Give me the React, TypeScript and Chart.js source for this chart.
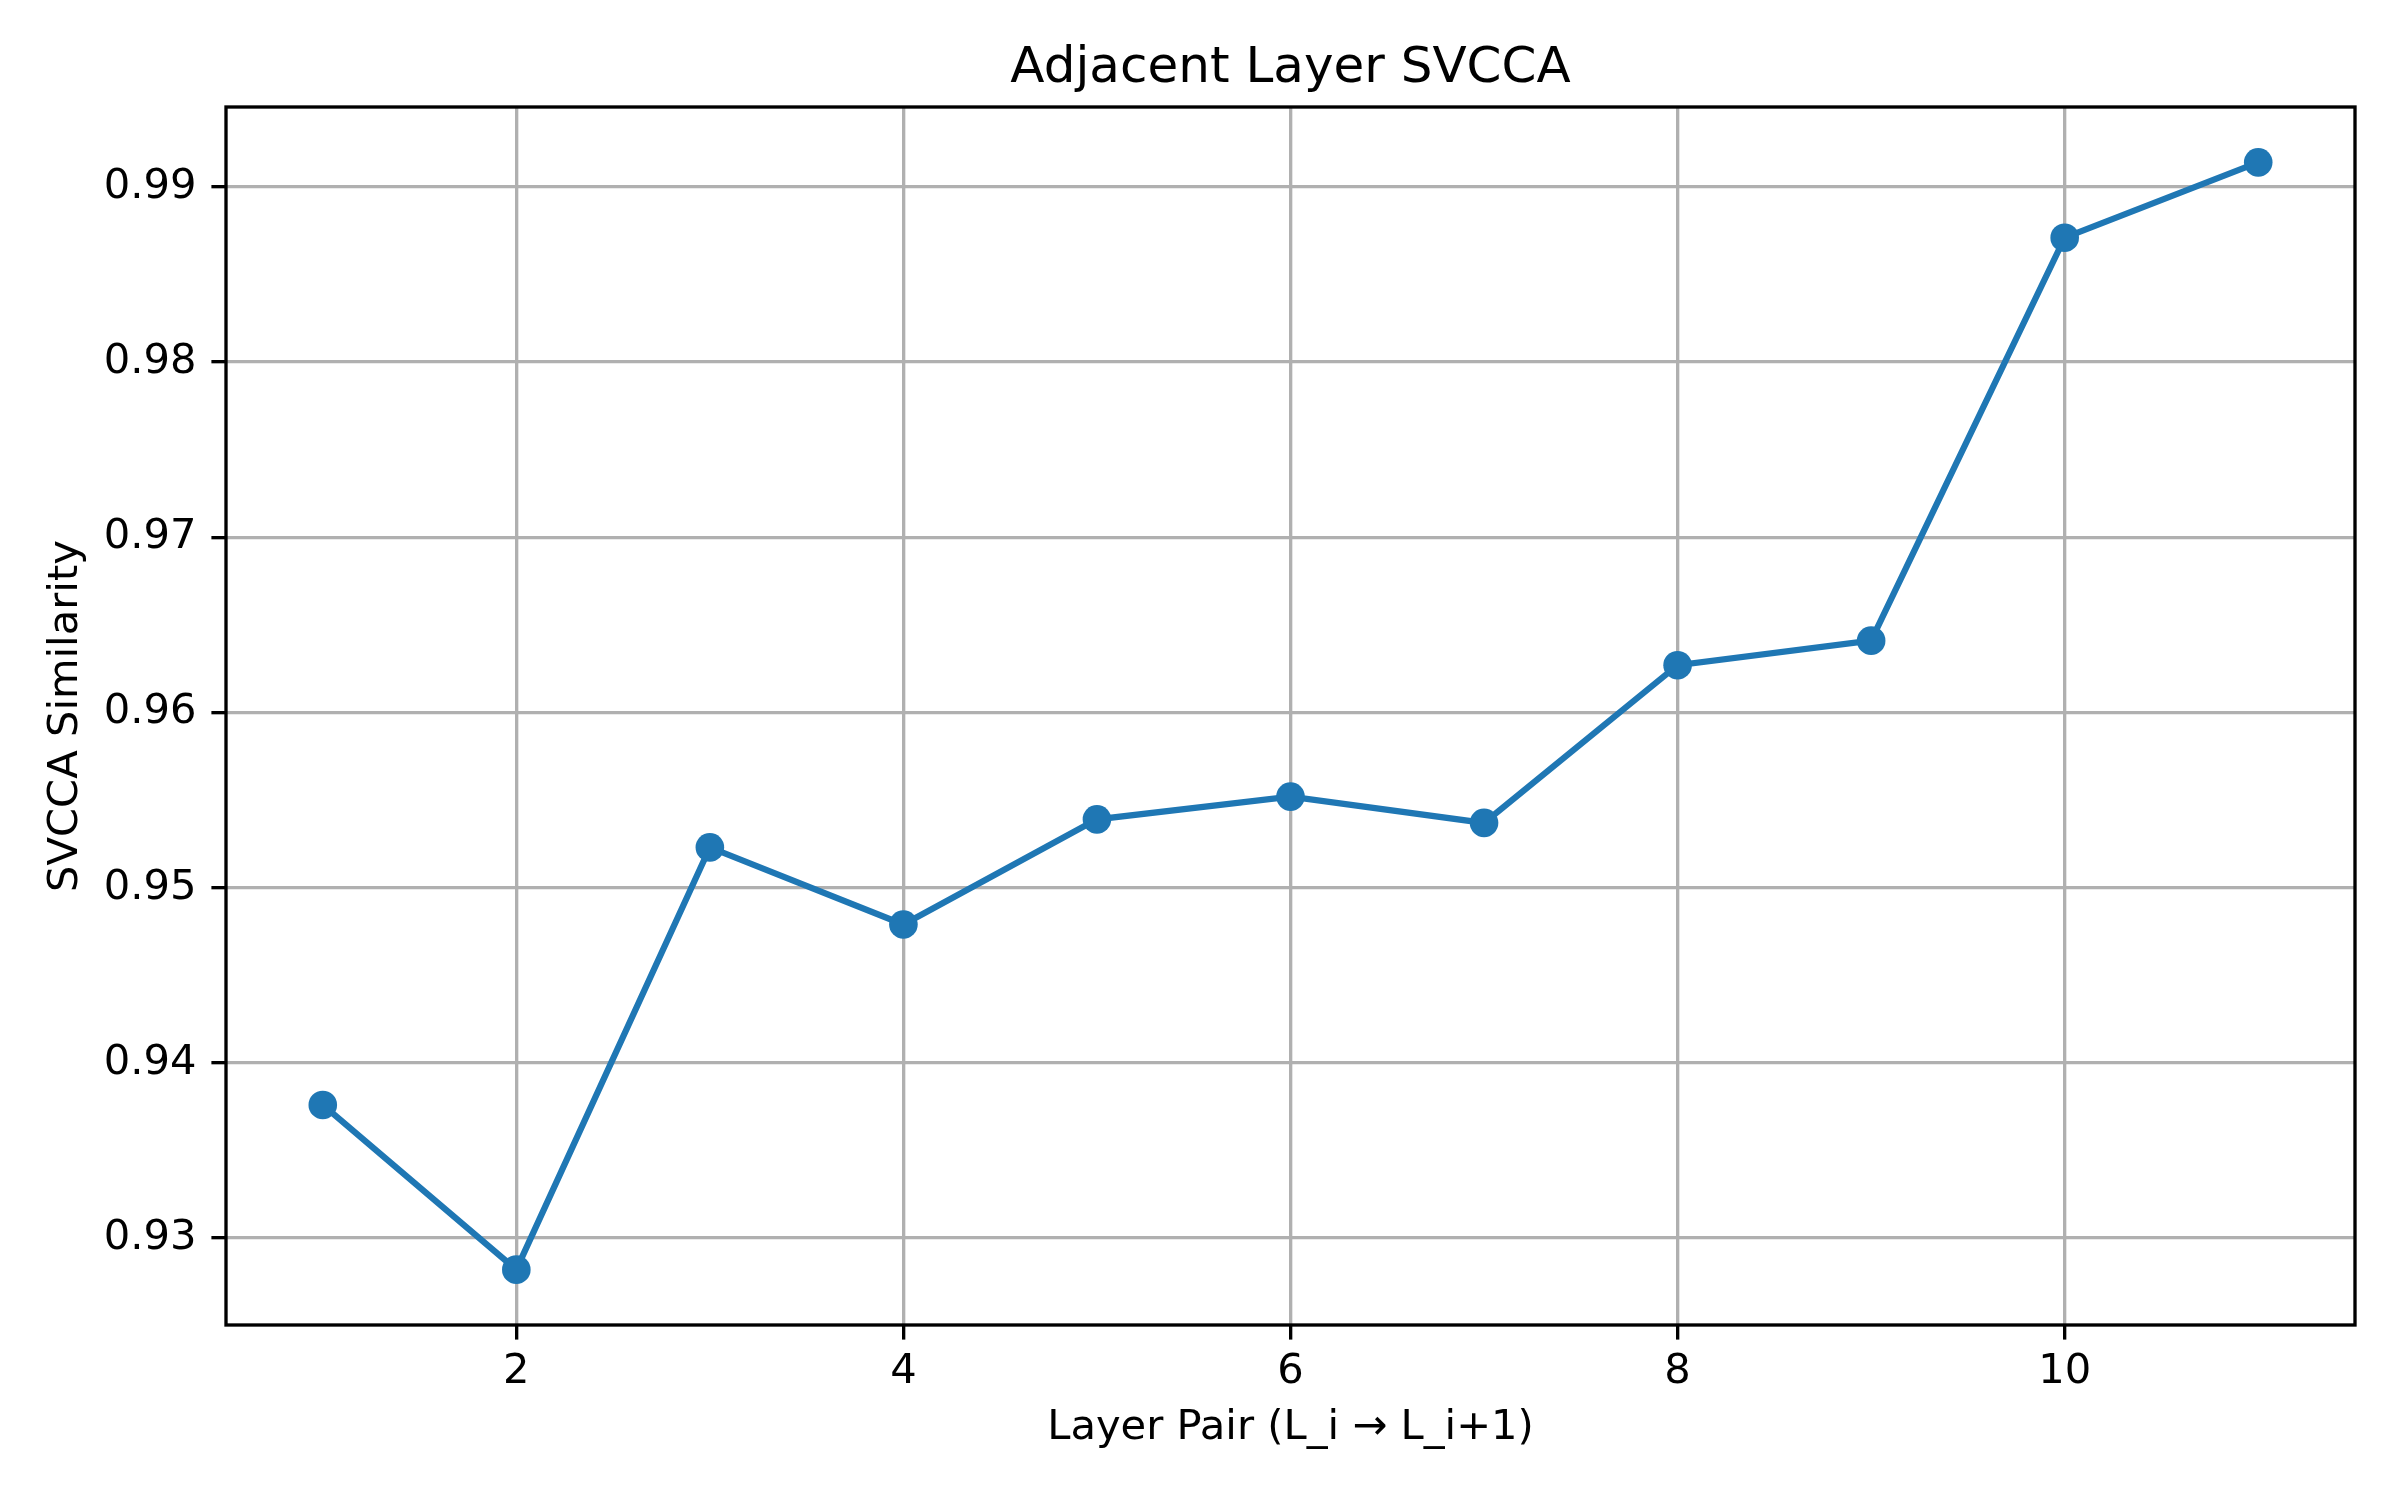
import React, { useEffect, useRef } from "react";
import { Chart, registerables } from "chart.js";

Chart.register(...registerables);

// Adjacent-layer SVCCA similarity for each layer pair (L_i -> L_i+1)
const layerPairs = [1, 2, 3, 4, 5, 6, 7, 8, 9, 10, 11];
const svccaValues = [
  0.9376, 0.9282, 0.9523, 0.9479, 0.9539, 0.9552, 0.9537, 0.9627, 0.9641,
  0.9871, 0.9914,
];
const xTickValues = [2, 4, 6, 8, 10];
const yTickValues = [0.93, 0.94, 0.95, 0.96, 0.97, 0.98, 0.99];

const chartTitle = "Adjacent Layer SVCCA";
const xAxisTitle = "Layer Pair (L_i \u2192 L_i+1)";
const yAxisTitle = "SVCCA Similarity";

const FONT = "'DejaVu Sans', 'Liberation Sans', sans-serif";
const LINE_BLUE = "#1f77b4";
const GRID_GREY = "#b0b0b0";

// 5% margins around the data, like the usual autoscaled axes
const xSpan = layerPairs[layerPairs.length - 1] - layerPairs[0];
const xMin = layerPairs[0] - 0.05 * xSpan;
const xMax = layerPairs[layerPairs.length - 1] + 0.05 * xSpan;
const yLo = Math.min(...svccaValues);
const yHi = Math.max(...svccaValues);
const yMin = yLo - 0.05 * (yHi - yLo);
const yMax = yHi + 0.05 * (yHi - yLo);

// Axes frame and title drawn on top of the plot
const framePlugin = {
  id: "frameAndTitle",
  afterDraw(chart: any) {
    const { ctx, chartArea: a } = chart;
    ctx.save();
    ctx.strokeStyle = "#000";
    ctx.lineWidth = 3.33;
    ctx.lineJoin = "miter";
    ctx.strokeRect(a.left, a.top, a.right - a.left, a.bottom - a.top);
    ctx.fillStyle = "#000";
    ctx.font = `50px ${FONT}`;
    ctx.textAlign = "center";
    ctx.textBaseline = "alphabetic";
    ctx.fillText(chartTitle, (a.left + a.right) / 2, 82);
    ctx.restore();
  },
};

export default function App() {
  const canvasRef = useRef<HTMLCanvasElement | null>(null);

  useEffect(() => {
    document.body.style.margin = "0";
    const canvas = canvasRef.current;
    if (!canvas) return;

    const chart = new Chart(canvas, {
      type: "line",
      data: {
        datasets: [
          {
            label: yAxisTitle,
            data: layerPairs.map((x, i) => ({ x, y: svccaValues[i] })),
            borderColor: LINE_BLUE,
            backgroundColor: LINE_BLUE,
            borderWidth: 6.25,
            pointRadius: 14.3,
            pointBorderWidth: 0,
            pointBackgroundColor: LINE_BLUE,
            tension: 0,
            fill: false,
          },
        ],
      },
      options: {
        responsive: false,
        animation: false,
        devicePixelRatio: 1,
        layout: { padding: { top: 107, right: 45, left: 0, bottom: 0 } },
        plugins: {
          legend: { display: false },
          title: { display: false },
          tooltip: { enabled: false },
        },
        scales: {
          x: {
            type: "linear",
            min: xMin,
            max: xMax,
            afterBuildTicks: (scale: any) => {
              scale.ticks = xTickValues.map((v) => ({ value: v }));
            },
            afterFit: (scale: any) => {
              scale.height = 175;
            },
            border: { display: false },
            grid: {
              color: GRID_GREY,
              lineWidth: 3.33,
              tickColor: "#000",
              tickWidth: 3.33,
              tickLength: 14.6,
              drawOnChartArea: true,
            },
            ticks: {
              color: "#000",
              font: { family: FONT, size: 41.67 },
              padding: 8,
              maxRotation: 0,
              autoSkip: false,
              callback: (v: any) => String(v),
            },
            title: {
              display: true,
              text: xAxisTitle,
              color: "#000",
              font: { family: FONT, size: 41.67 },
              padding: { top: 0, bottom: 47 },
            },
          },
          y: {
            type: "linear",
            min: yMin,
            max: yMax,
            afterBuildTicks: (scale: any) => {
              scale.ticks = yTickValues.map((v) => ({ value: v }));
            },
            afterFit: (scale: any) => {
              scale.width = 226;
            },
            border: { display: false },
            grid: {
              color: GRID_GREY,
              lineWidth: 3.33,
              tickColor: "#000",
              tickWidth: 3.33,
              tickLength: 14.6,
            },
            ticks: {
              color: "#000",
              font: { family: FONT, size: 41.67 },
              padding: 15,
              autoSkip: false,
              callback: (v: any) => Number(v).toFixed(2),
            },
            title: {
              display: true,
              text: yAxisTitle,
              color: "#000",
              font: { family: FONT, size: 41.67 },
              padding: { top: 41, bottom: 0 },
            },
          },
        },
      },
      plugins: [framePlugin],
    });

    return () => chart.destroy();
  }, []);

  return (
    <div style={{ position: "absolute", left: 0, top: 0, width: 2400, height: 1500, background: "#fff" }}>
      <canvas ref={canvasRef} width={2400} height={1500} style={{ width: 2400, height: 1500, display: "block" }} />
    </div>
  );
}
